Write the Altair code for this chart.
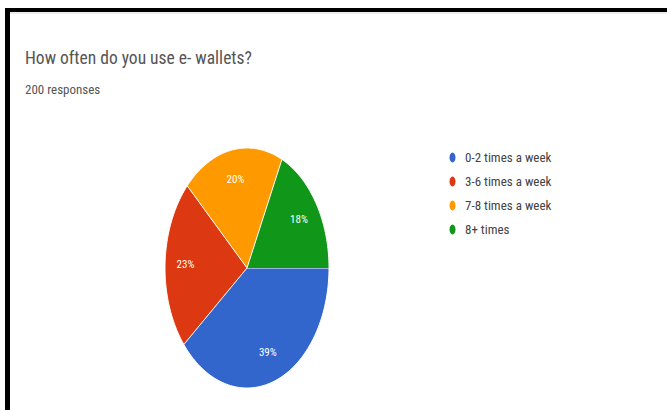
import altair as alt
import pandas as pd

categories = ["0-2 times a week", "3-6 times a week", "7-8 times a week", "8+ times"]
counts = [78, 46, 40, 36]
colors = ["#3366CC", "#DC3912", "#FF9900", "#109618"]
title_text = "How often do you use e- wallets?"
subtitle_text = "200 responses"

FONT = "Liberation Sans Narrow, Roboto Condensed, DejaVu Sans Condensed, Liberation Sans, sans-serif"
N = 90

df = pd.DataFrame({"category": categories, "count": counts, "idx": list(range(len(categories)))})

xs = alt.Scale(domain=[-1, 1], nice=False, zero=False)
ys = alt.Scale(domain=[-1, 1], nice=False, zero=False)

base = (
    alt.Chart(df)
    .transform_joinaggregate(total="sum(count)")
    .transform_window(cum="sum(count)", sort=[alt.SortField("idx")], frame=[None, 0])
    .transform_calculate(
        a0="(datum.cum - datum.count) / datum.total * 2 * PI + PI / 2",
        a1="datum.cum / datum.total * 2 * PI + PI / 2",
    )
)

slices = (
    base.transform_calculate(k=f"sequence(-1, {N + 1})")
    .transform_flatten(["k"])
    .transform_calculate(
        ang=f"datum.a0 + (datum.a1 - datum.a0) * max(datum.k, 0) / {N}",
        px="datum.k < 0 ? 0 : sin(datum.ang)",
        py="datum.k < 0 ? 0 : cos(datum.ang)",
    )
    .mark_line(filled=True, stroke="white", strokeWidth=1, strokeJoin="round", opacity=1)
    .encode(
        x=alt.X("px:Q", scale=xs, axis=None),
        y=alt.Y("py:Q", scale=ys, axis=None),
        color=alt.Color(
            "category:N",
            scale=alt.Scale(domain=categories, range=colors),
            legend=alt.Legend(
                orient="none",
                legendX=281,
                legendY=3,
                title=None,
                symbolType="M0,-1A0.6,1,0,1,1,0,1A0.6,1,0,1,1,0,-1Z",
                symbolSize=100,
                symbolStrokeWidth=0,
                symbolOpacity=1,
                labelFont=FONT,
                labelFontSize=13,
                labelColor="#444444",
                labelOffset=6,
                rowPadding=10,
                padding=0,
            ),
        ),
        order=alt.Order("k:Q"),
        detail="category:N",
    )
)

labels = (
    base.transform_calculate(
        mid="(datum.a0 + datum.a1) / 2",
        lx="0.75 * sin(datum.mid)",
        ly="0.75 * cos(datum.mid)",
        pct="format(datum.count / datum.total, '.0%')",
    )
    .mark_text(color="white", font=FONT, fontSize=11)
    .encode(
        x=alt.X("lx:Q", scale=xs, axis=None),
        y=alt.Y("ly:Q", scale=ys, axis=None),
        text="pct:N",
    )
)

one = pd.DataFrame({"a": [0]})
border_top = alt.Chart(one).mark_rule(color="black", strokeWidth=4).encode(
    x=alt.value(-160), x2=alt.value(502), y=alt.value(-138)
)
border_left = alt.Chart(one).mark_rule(color="black", strokeWidth=5).encode(
    x=alt.value(-157.5), y=alt.value(-140), y2=alt.value(262)
)
inner_line = alt.Chart(one).mark_rule(color="#ececec", strokeWidth=2).encode(
    x=alt.value(-155), x2=alt.value(502), y=alt.value(-135)
)

chart = (
    alt.layer(inner_line, border_top, border_left, slices, labels)
    .properties(
        width=164,
        height=240,
        padding={"left": 165, "top": 148, "right": 338, "bottom": 22},
        autosize=alt.AutoSizeParams(type="none"),
        background="white",
        title=alt.TitleParams(
            text=title_text,
            subtitle=subtitle_text,
            anchor="start",
            frame="group",
            dx=-140,
            offset=-91,
            font=FONT,
            fontSize=17.5,
            fontWeight="normal",
            color="#555555",
            subtitleFont=FONT,
            subtitleFontSize=13,
            subtitleColor="#555555",
            subtitlePadding=16,
        ),
    )
    .configure_view(stroke=None)
)

chart.save("out.html", embed_options={"renderer": "svg", "actions": False})
